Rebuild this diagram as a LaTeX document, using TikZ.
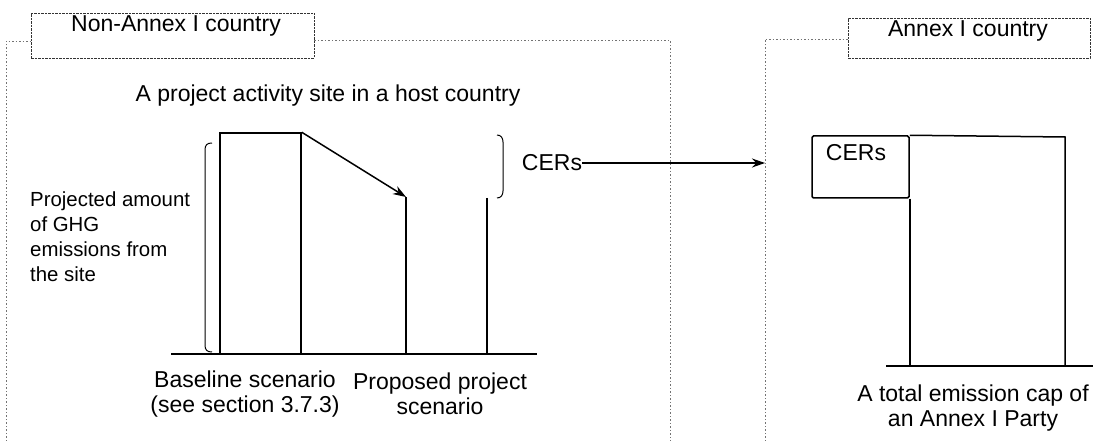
\documentclass[tikz,border=0pt]{standalone}
\usepackage{fontspec}
\setmainfont{Liberation Sans}
\usetikzlibrary{arrows.meta,positioning}
\tikzset{
  frameline/.style = {draw=black!55, line width=0.5pt, dash pattern=on 1.5pt off 2pt},
  tagbox/.style = {draw=black!80, line width=0.7pt, dash pattern=on 2.5pt off 1pt,
    inner sep=0pt},
  bigtext/.style = {font=\fontsize{23}{25}\selectfont, align=center, inner sep=0pt},
  sidetext/.style = {font=\fontsize{20.4}{25}\selectfont, align=left, inner sep=0pt},
  bar/.style = {line width=1.5pt},
  cerbox/.style = {draw, line width=1.5pt, rounded corners=1.5pt, inner sep=0pt,
    minimum width=97pt, minimum height=62pt}}

\begin{document}
\begin{tikzpicture}[x=1pt,y=-1pt,>={Stealth[length=13pt,width=9pt]}]
\useasboundingbox (0,0) rectangle (1096,441);

% country frames
\node [tagbox, minimum width=283pt, minimum height=45pt] (nonannex) at (172.5,35.5) {};
\node [bigtext] (nonannextxt) at (176,26) {Non-Annex I country};
\draw [frameline] (6,441) -- (6,41) -- (nonannex.west |- 0,41);
\draw [frameline] (nonannex.east |- 0,40) -- (670,40) -- (670,441);

\node [tagbox, minimum width=242pt, minimum height=40pt] (annex) at (969,38.5) {};
\node [bigtext] (annextxt) at (968,31) {Annex I country};
\draw [frameline] (765,441) -- (765,39) -- (annex.west |- 0,39);

% host country side
\node [bigtext] (site) at (328,96) {A project activity site in a host country};
\coordinate (gl) at (171,354);
\coordinate (gr) at (537,354);
\node [draw, bar, inner sep=0pt, minimum width=81pt, minimum height=221pt] (base) at (260.5,243.5) {};
\coordinate (pl) at (406,197);
\coordinate (pr) at (487,198);
\draw [bar] (gl) -- (gr);
\draw [bar] (pl) -- (pl |- gl);
\draw [bar] (pr) -- (pr |- gl);
\draw [bar,->] (base.north east) -- (pl);

\draw [line width=1pt] (212,143) .. controls (207,143) and (205,145) .. (205,150)
  -- (205,345) .. controls (205,350) and (207,352) .. (212,352);
\draw [line width=1pt] (497,135) .. controls (501,135) and (503,138) .. (503,142)
  -- (503,191) .. controls (503,195) and (501,198) .. (497,198);

\node [sidetext, anchor=west] (ghg) at (30,237) {Projected amount\\of GHG\\emissions from\\the site};
\node [bigtext] (basetxt) at (245,394) {Baseline scenario\\(see section 3.7.3)};
\node [bigtext] (projtxt) at (440,394) {Proposed project\\scenario};

% transfer of CERs
\node [bigtext] (cers) at (552,163) {CERs};
\coordinate (cerin) at (765,163);
\draw [line width=1.2pt,->] (cers.east) -- (cerin);

% Annex I side
\coordinate (capl) at (886,366);
\coordinate (capr) at (1093,366);
\node [cerbox] (cerbox) at (860.5,167) {};
\node [bigtext] (cerboxtxt) at (856,153) {CERs};
\draw [bar] (cerbox.north east) -- (1065,137) -- (1065,366);
\draw [bar] (cerbox.south east) -- (cerbox.south east |- capl);
\draw [bar] (capl) -- (capr);
\node [bigtext] (captxt) at (973,408) {A total emission cap of\\an Annex I Party};
\end{tikzpicture}
\end{document}
